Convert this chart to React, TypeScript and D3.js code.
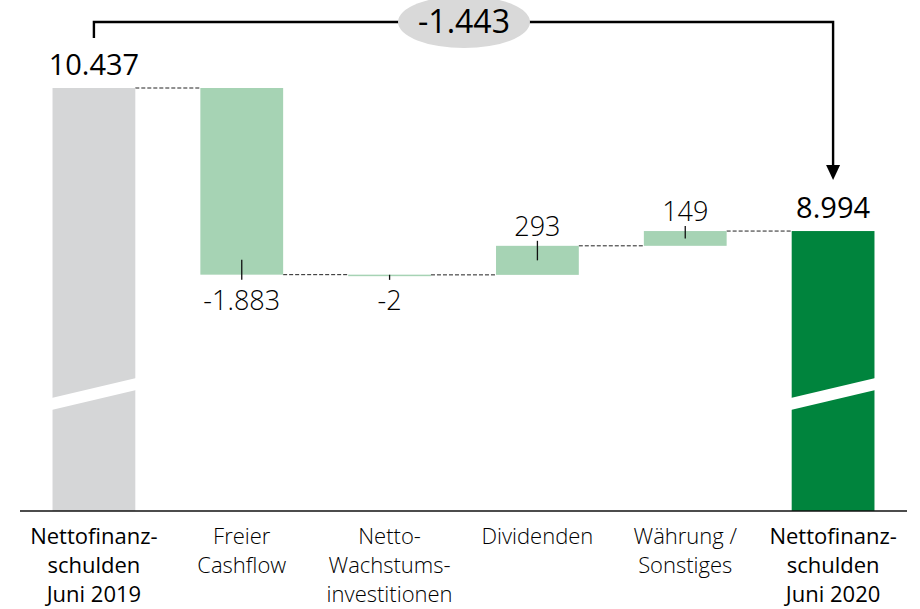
import * as d3 from 'd3';

// chart data
const CATEGORIES = [
  ['Nettofinanz-', 'schulden', 'Juni 2019'],
  ['Freier', 'Cashflow'],
  ['Netto-', 'Wachstums-', 'investitionen'],
  ['Dividenden'],
  ['Währung /', 'Sonstiges'],
  ['Nettofinanz-', 'schulden', 'Juni 2020'],
];
const VALUES = [10437, -1883, -2, 293, 149, 8994];
const KINDS = ['start', 'delta', 'delta', 'delta', 'delta', 'end'];
const TOTAL_CHANGE = -1443;

const W = 920;
const H = 609;
const AXIS_Y = 511;
const COLORS = { start: '#d5d6d7', delta: '#a6d3b4', end: '#00843d', ellipse: '#d9d9d9' };
const FONT = "'Open Sans', 'Noto Sans', sans-serif";

const fmt = (v: number) => {
  const s = Math.abs(v).toLocaleString('de-DE');
  return v < 0 ? `-${s}` : s;
};

export default function App() {
  const keys = CATEGORIES.map((_, i) => String(i));
  const x = d3.scaleBand().domain(keys).range([20, 907]).paddingInner(0.44).paddingOuter(0.22);
  // broken value axis: only the upper part is shown
  const y = d3.scaleLinear().domain([6170, 10437]).range([AXIS_Y, 88]);

  // running totals for the waterfall
  let run = 0;
  const bars = VALUES.map((v, i) => {
    const kind = KINDS[i];
    let y0: number, y1: number;
    if (kind === 'delta') {
      y0 = run;
      y1 = run + v;
      run = y1;
    } else {
      y0 = y.domain()[0];
      y1 = v;
      run = v;
    }
    return { i, v, kind, lo: Math.min(y0, y1), hi: Math.max(y0, y1), end: run };
  });

  const bw = x.bandwidth();
  const cx = (i: number) => (x(String(i)) as number) + bw / 2;
  const first = bars[0];
  const last = bars[bars.length - 1];
  const topY = 22;
  const ex = (cx(0) + cx(5)) / 2 + 0.5;

  // break band geometry (parallelogram)
  const breakPath = (i: number) => {
    const x0 = x(String(i)) as number;
    const x1 = x0 + bw;
    return `M${x0 - 1},${398}L${x1 + 1},${378}L${x1 + 1},${390}L${x0 - 1},${410}Z`;
  };

  return (
    <svg width={W} height={H} style={{ position: 'absolute', left: 0, top: 0 }} fontFamily={FONT}>
      {/* connectors */}
      {bars.slice(0, -1).map((b) => {
        const x0 = (x(String(b.i)) as number) + bw;
        const x1 = x(String(b.i + 1)) as number;
        return (
          <line key={`c${b.i}`} x1={x0} x2={x1} y1={y(b.end)} y2={y(b.end)}
            stroke="#222" strokeWidth={1} strokeDasharray="4,2" />
        );
      })}
      {/* bars */}
      {bars.map((b) => {
        const h = Math.max(1.5, y(b.lo) - y(b.hi));
        return (
          <rect key={`b${b.i}`} x={x(String(b.i))} y={y(b.hi)} width={bw} height={h}
            fill={COLORS[b.kind as keyof typeof COLORS]} />
        );
      })}
      {/* axis breaks */}
      <path d={breakPath(0)} fill="#fff" />
      <path d={breakPath(5)} fill="#fff" />
      {/* leader ticks on deltas */}
      {bars.filter((b) => b.kind === 'delta').map((b) => {
        const hgt = y(b.lo) - y(b.hi);
        const inside = Math.min(15, hgt / 2);
        const neg = b.v < 0;
        const edge = neg ? y(b.lo) : y(b.hi);
        const ya = neg ? edge - inside : edge - 5;
        const yb = neg ? edge + 5 : edge + inside;
        return <line key={`t${b.i}`} x1={cx(b.i)} x2={cx(b.i)} y1={ya} y2={yb} stroke="#111" strokeWidth={1.3} />;
      })}
      {/* value labels */}
      {bars.map((b) => {
        const total = b.kind !== 'delta';
        const neg = b.v < 0;
        const ly = total ? y(b.hi) - 13 : neg ? y(b.lo) + 35 : y(b.hi) - 10;
        return (
          <text key={`v${b.i}`} x={cx(b.i)} y={ly} textAnchor="middle"
            fontSize={total ? 29 : 27} fontWeight={total ? 400 : 300} fill="#000">
            {fmt(b.v)}
          </text>
        );
      })}
      {/* x axis */}
      <line x1={20} x2={907} y1={AXIS_Y} y2={AXIS_Y} stroke="#111" strokeWidth={1.6} />
      {CATEGORIES.map((lines, i) => {
        const total = KINDS[i] !== 'delta';
        return (
          <text key={`l${i}`} x={cx(i)} textAnchor="middle" fontSize={22}
            fontWeight={total ? 400 : 300} fill="#000">
            {lines.map((s, j) => (
              <tspan key={j} x={cx(i)} y={544 + j * 29}>{s}</tspan>
            ))}
          </text>
        );
      })}
      {/* total change bracket */}
      <path d={`M${cx(0)},${y(first.hi) - 50}V${topY}H${cx(5)}V${y(last.hi) - 65}`}
        fill="none" stroke="#000" strokeWidth={2.4} />
      <path d={`M${cx(5) - 7},${y(last.hi) - 66}L${cx(5) + 7},${y(last.hi) - 66}L${cx(5)},${y(last.hi) - 51}Z`} fill="#000" />
      <ellipse cx={ex} cy={topY} rx={66} ry={26} fill={COLORS.ellipse} />
      <text x={ex} y={topY + 11} textAnchor="middle" fontSize={32} fill="#000">{fmt(TOTAL_CHANGE)}</text>
    </svg>
  );
}
